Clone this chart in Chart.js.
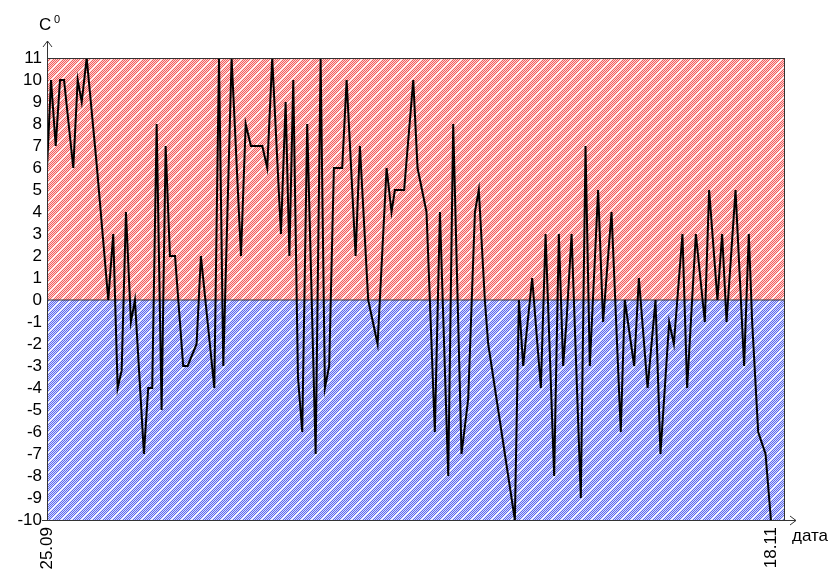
<!DOCTYPE html>
<html>
<head>
<meta charset="utf-8">
<script src="https://cdn.jsdelivr.net/npm/chart.js@4/dist/chart.umd.min.js"></script>
<style>
  html, body { margin: 0; padding: 0; background: #fff; }
  #wrap { width: 833px; height: 571px; }
</style>
</head>
<body>
<div id="wrap"><canvas id="chart" width="833" height="571"></canvas></div>
<script>
// day offsets from 25.09 and temperature readings (C)
const days = [0, 0.30, 0.65, 0.97, 1.27, 1.96, 2.29, 2.59, 2.96, 3.70,
    4.57, 4.94, 5.27, 5.57, 5.89, 6.26, 6.56, 7.23, 7.55, 7.85,
    8.18, 8.55, 8.85, 9.17, 9.55, 10.16, 10.49, 11.16, 11.48, 12.48,
    12.83, 13.15, 13.77, 14.47, 14.82, 15.21, 16.06, 16.43, 16.80, 17.45,
    17.80, 18.08, 18.37, 18.72, 19.04, 19.41, 20.04, 20.41, 20.73, 21.05,
    21.40, 22.02, 22.35, 23.02, 23.34, 23.96, 24.66, 25.33, 25.70, 25.95,
    26.64, 27.32, 27.64, 28.31, 28.93, 29.31, 29.93, 30.30, 30.92, 31.42,
    31.92, 32.21, 32.66, 32.91, 34.90, 35.20, 35.52, 36.19, 36.84, 37.19,
    37.83, 38.18, 38.50, 38.75, 39.13, 39.82, 40.17, 40.49, 41.11, 41.48,
    42.11, 42.80, 43.10, 43.80, 44.15, 44.80, 45.39, 45.76, 46.41, 46.76,
    47.40, 47.75, 48.40, 49.07, 49.39, 50.01, 50.36, 50.69, 51.36, 52.00,
    52.35, 52.60, 53.05, 53.60, 54.00];
const temps = [6, 10, 7, 10, 10, 6, 10, 9, 11, 6.2,
    0, 3, -4, -3.2, 4, -1, 0, -7, -4, -4,
    8, -5, 7, 2, 2, -3, -3, -2, 2, -4,
    11, -3, 11, 2, 8, 7, 7, 6, 11, 3,
    9, 2, 10, -3.5, -6, 8, -7, 11, -4, -3,
    6, 6, 10, 2, 7, 0, -2, 6, 4, 5,
    5, 10, 6, 4, -6, 4, -8, 8, -7, -4.5,
    4, 5, 0, -2, -10, 0, -3, 1, -4, 3,
    -8, 3, -3, -1, 3, -9, 7, -3, 5, -1,
    4, -6, 0, -3, 1, -4, 0, -7, -1, -2,
    3, -4, 3, -1, 5, 0, 3, -1, 5, -3,
    3, -1, -6, -7, -10];

// x axis ticks
const tickDays = [0, 54];
const tickLabels = ["25.09", "18.11"];

// axis range
const xMin = 0, xMax = 55.05;
const yMin = -10, yMax = 11;

// hatched fill: fine stripes of colour and light tint, thin white diagonal every 10px
function makeHatch(dark, light) {
    const n = 10;
    const c = document.createElement("canvas");
    c.width = n; c.height = n;
    const cx = c.getContext("2d");
    const img = cx.createImageData(n, n);
    for (let y = 0; y < n; y++) {
        for (let x = 0; x < n; x++) {
            const k = (x + y) % n;
            const i = (y * n + x) * 4;
            let col = (x + y) % 2 === 0 ? dark : light;
            if (k === 0) col = [255, 255, 255];
            img.data[i] = col[0]; img.data[i + 1] = col[1]; img.data[i + 2] = col[2]; img.data[i + 3] = 255;
        }
    }
    cx.putImageData(img, 0, 0);
    return cx.createPattern(c, "repeat");
}

const redHatch = makeHatch([240, 95, 95], [255, 212, 212]);
const blueHatch = makeHatch([95, 105, 235], [212, 218, 255]);

const points = days.map((d, i) => ({ x: d, y: temps[i] }));

// frame, arrows and axis titles
const decor = {
    id: "decor",
    afterDatasetsDraw(chart) {
        const ctx = chart.ctx;
        const a = chart.chartArea;
        ctx.save();
        ctx.strokeStyle = "#333";
        ctx.lineWidth = 1;
        ctx.strokeRect(a.left + 0.5, a.top + 0.5, a.right - a.left - 1, a.bottom - a.top);
        // y axis arrow
        ctx.beginPath();
        ctx.moveTo(a.left + 0.5, a.top);
        ctx.lineTo(a.left + 0.5, a.top - 17);
        ctx.moveTo(a.left - 4, a.top - 11);
        ctx.lineTo(a.left + 0.5, a.top - 17);
        ctx.lineTo(a.left + 5, a.top - 11);
        // x axis arrow
        ctx.moveTo(a.left - 5, a.bottom + 0.5);
        ctx.lineTo(a.right + 11, a.bottom + 0.5);
        ctx.moveTo(a.right + 5, a.bottom - 4);
        ctx.lineTo(a.right + 11, a.bottom + 0.5);
        ctx.lineTo(a.right + 5, a.bottom + 5);
        ctx.stroke();
        ctx.fillStyle = "#000";
        ctx.textBaseline = "alphabetic";
        ctx.textAlign = "left";
        ctx.font = "17px 'Liberation Sans', Arial, sans-serif";
        ctx.fillText("C", 39, 30);
        ctx.font = "11px 'Liberation Sans', Arial, sans-serif";
        ctx.fillText("0", 54, 23);
        ctx.font = "17px 'Liberation Sans', Arial, sans-serif";
        ctx.fillText("дата", 792, 541);
        ctx.restore();
    }
};

new Chart(document.getElementById("chart"), {
    type: "line",
    data: {
        datasets: [
            {
                label: "t",
                data: points,
                borderColor: "#000",
                borderWidth: 2,
                pointRadius: 0,
                tension: 0,
                fill: false
            },
            {
                label: "zero",
                data: [{ x: xMin, y: 0 }, { x: xMax, y: 0 }],
                borderColor: "#333",
                borderWidth: 1,
                pointRadius: 0,
                fill: false
            },
            {
                label: "warm",
                data: [{ x: xMin, y: yMax }, { x: xMax, y: yMax }],
                borderWidth: 0,
                pointRadius: 0,
                backgroundColor: redHatch,
                fill: "origin"
            },
            {
                label: "cold",
                data: [{ x: xMin, y: yMin }, { x: xMax, y: yMin }],
                borderWidth: 0,
                pointRadius: 0,
                backgroundColor: blueHatch,
                fill: "origin"
            }
        ]
    },
    options: {
        responsive: false,
        animation: false,
        events: [],
        layout: { padding: { top: 58, right: 48, left: 0, bottom: 0 } },
        plugins: { legend: { display: false }, tooltip: { enabled: false } },
        scales: {
            x: {
                type: "linear",
                min: xMin,
                max: xMax,
                grid: { display: false, drawTicks: false },
                border: { display: true, color: "#333" },
                afterFit(scale) { scale.height = 51; },
                afterBuildTicks(scale) { scale.ticks = tickDays.map(v => ({ value: v })); },
                ticks: {
                    autoSkip: false,
                    minRotation: 90,
                    maxRotation: 90,
                    padding: 7,
                    color: "#000",
                    font: { family: "'Liberation Sans', Arial, sans-serif", size: 17 },
                    callback: (value, index) => tickLabels[index]
                }
            },
            y: {
                min: yMin,
                max: yMax,
                grid: { display: false, drawTicks: false },
                border: { display: true, color: "#333" },
                afterFit(scale) { scale.width = 47; },
                ticks: {
                    stepSize: 1,
                    autoSkip: false,
                    padding: 5,
                    color: "#000",
                    font: { family: "'Liberation Sans', Arial, sans-serif", size: 17 }
                }
            }
        }
    },
    plugins: [decor]
});
</script>
</body>
</html>
